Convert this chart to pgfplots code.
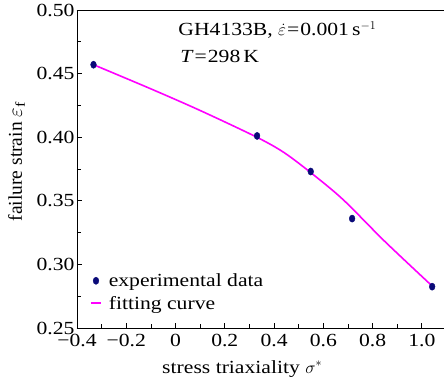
\documentclass[border=0pt]{standalone}
\usepackage{fontspec}
\setmainfont{Liberation Serif}[FakeStretch=1.17]
\newfontfamily\ylabfont{Liberation Serif}
\usepackage{pgfplots}
\pgfplotsset{compat=1.18}
\definecolor{navy}{RGB}{10,10,120}
\definecolor{mag}{RGB}{255,0,255}
\newcommand{\bigf}{\fontsize{18.5}{22}\selectfont}
\newcommand{\ylf}{\ylabfont\fontsize{19.5}{23}\selectfont}
\pgfplotsset{
  marklegend/.style={legend image code/.code={\draw[##1] plot coordinates {(5pt,1.5pt)};}},
  linelegend/.style={legend image code/.code={\draw[##1] (0pt,2.5pt) -- (10pt,2.5pt);}},
}
\begin{document}
\begin{tikzpicture}
\useasboundingbox (-77pt,-55pt) rectangle (367pt,328pt);
\begin{axis}[
  at={(0,0)}, anchor=south west,
  scale only axis, width=367pt, height=318pt,
  xmin=-0.4, xmax=1.09, ymin=0.25, ymax=0.50,
  axis lines*=left, axis line style={-, line width=0.9pt},
  tick align=inside, major tick length=5pt, minor tick length=4pt,
  every tick/.style={black, line width=0.7pt},
  xtick={-0.4,-0.2,0,0.2,0.4,0.6,0.8,1.0},
  xticklabels={−0.4,−0.2,0,0.2,0.4,0.6,0.8,1.0},
  minor xtick={-0.3,-0.1,0.1,0.3,0.5,0.7,0.9},
  ytick={0.25,0.30,0.35,0.40,0.45,0.50},
  yticklabels={0.25,0.30,0.35,0.40,0.45,0.50},
  minor ytick={0.275,0.325,0.375,0.425,0.475},
  tick label style={font=\bigf},
  xticklabel style={anchor=base, yshift=-18pt},
  yticklabel style={xshift=1pt},
  xlabel={stress triaxiality $\sigma^{*}$},
  ylabel={failure strain $\varepsilon_{\mathrm{f}}$},
  every axis x label/.style={at={(rel axis cs:0.45,0)}, anchor=base, yshift=-45pt, font=\bigf},
  every axis y label/.style={at={(rel axis cs:0,0.522)}, xshift=-60.5pt, rotate=90, anchor=center, font=\ylf},
  legend style={draw=none, fill=none, at={(rel axis cs:0,0)}, anchor=south west,
    xshift=13pt, yshift=13pt, inner sep=0pt,
    nodes={inner sep=1pt, text height=13pt, text depth=4pt},
    row sep=4pt, /tikz/every odd column/.append style={column sep=6pt}},
  legend cell align=left,
  clip=false,
]
\addplot[only marks, mark=*, mark options={fill=navy, draw=navy, xscale=0.8, yscale=1.0}, mark size=3.6pt, marklegend]
  coordinates {(-0.333,0.457) (0.331,0.401) (0.549,0.373) (0.717,0.336) (1.042,0.2825)};
\addlegendentry{\bigf experimental data}
\addplot[mag, line width=1.6pt, smooth, tension=0.5, linelegend]
  coordinates {(-0.333,0.457) (-0.1,0.438) (0.1,0.421) (0.33,0.400) (0.44,0.388) (0.55,0.372) (0.68,0.351) (0.85,0.318) (1.042,0.283)};
\addlegendentry{\bigf fitting curve}
\draw[line width=0.9pt] (rel axis cs:0,1) -- (rel axis cs:1,1);
\node[anchor=base west, font=\bigf, inner sep=0pt] at (axis cs:0.011,0.480)
  {GH4133B, $\dot{\varepsilon}$\kern1pt=\kern1pt0.001\,s$^{-1}$};
\node[anchor=base west, font=\bigf, inner sep=0pt] at (axis cs:0.019,0.459)
  {\textit{T}\kern1pt=\kern1pt298\,K};
\end{axis}
\end{tikzpicture}
\end{document}
